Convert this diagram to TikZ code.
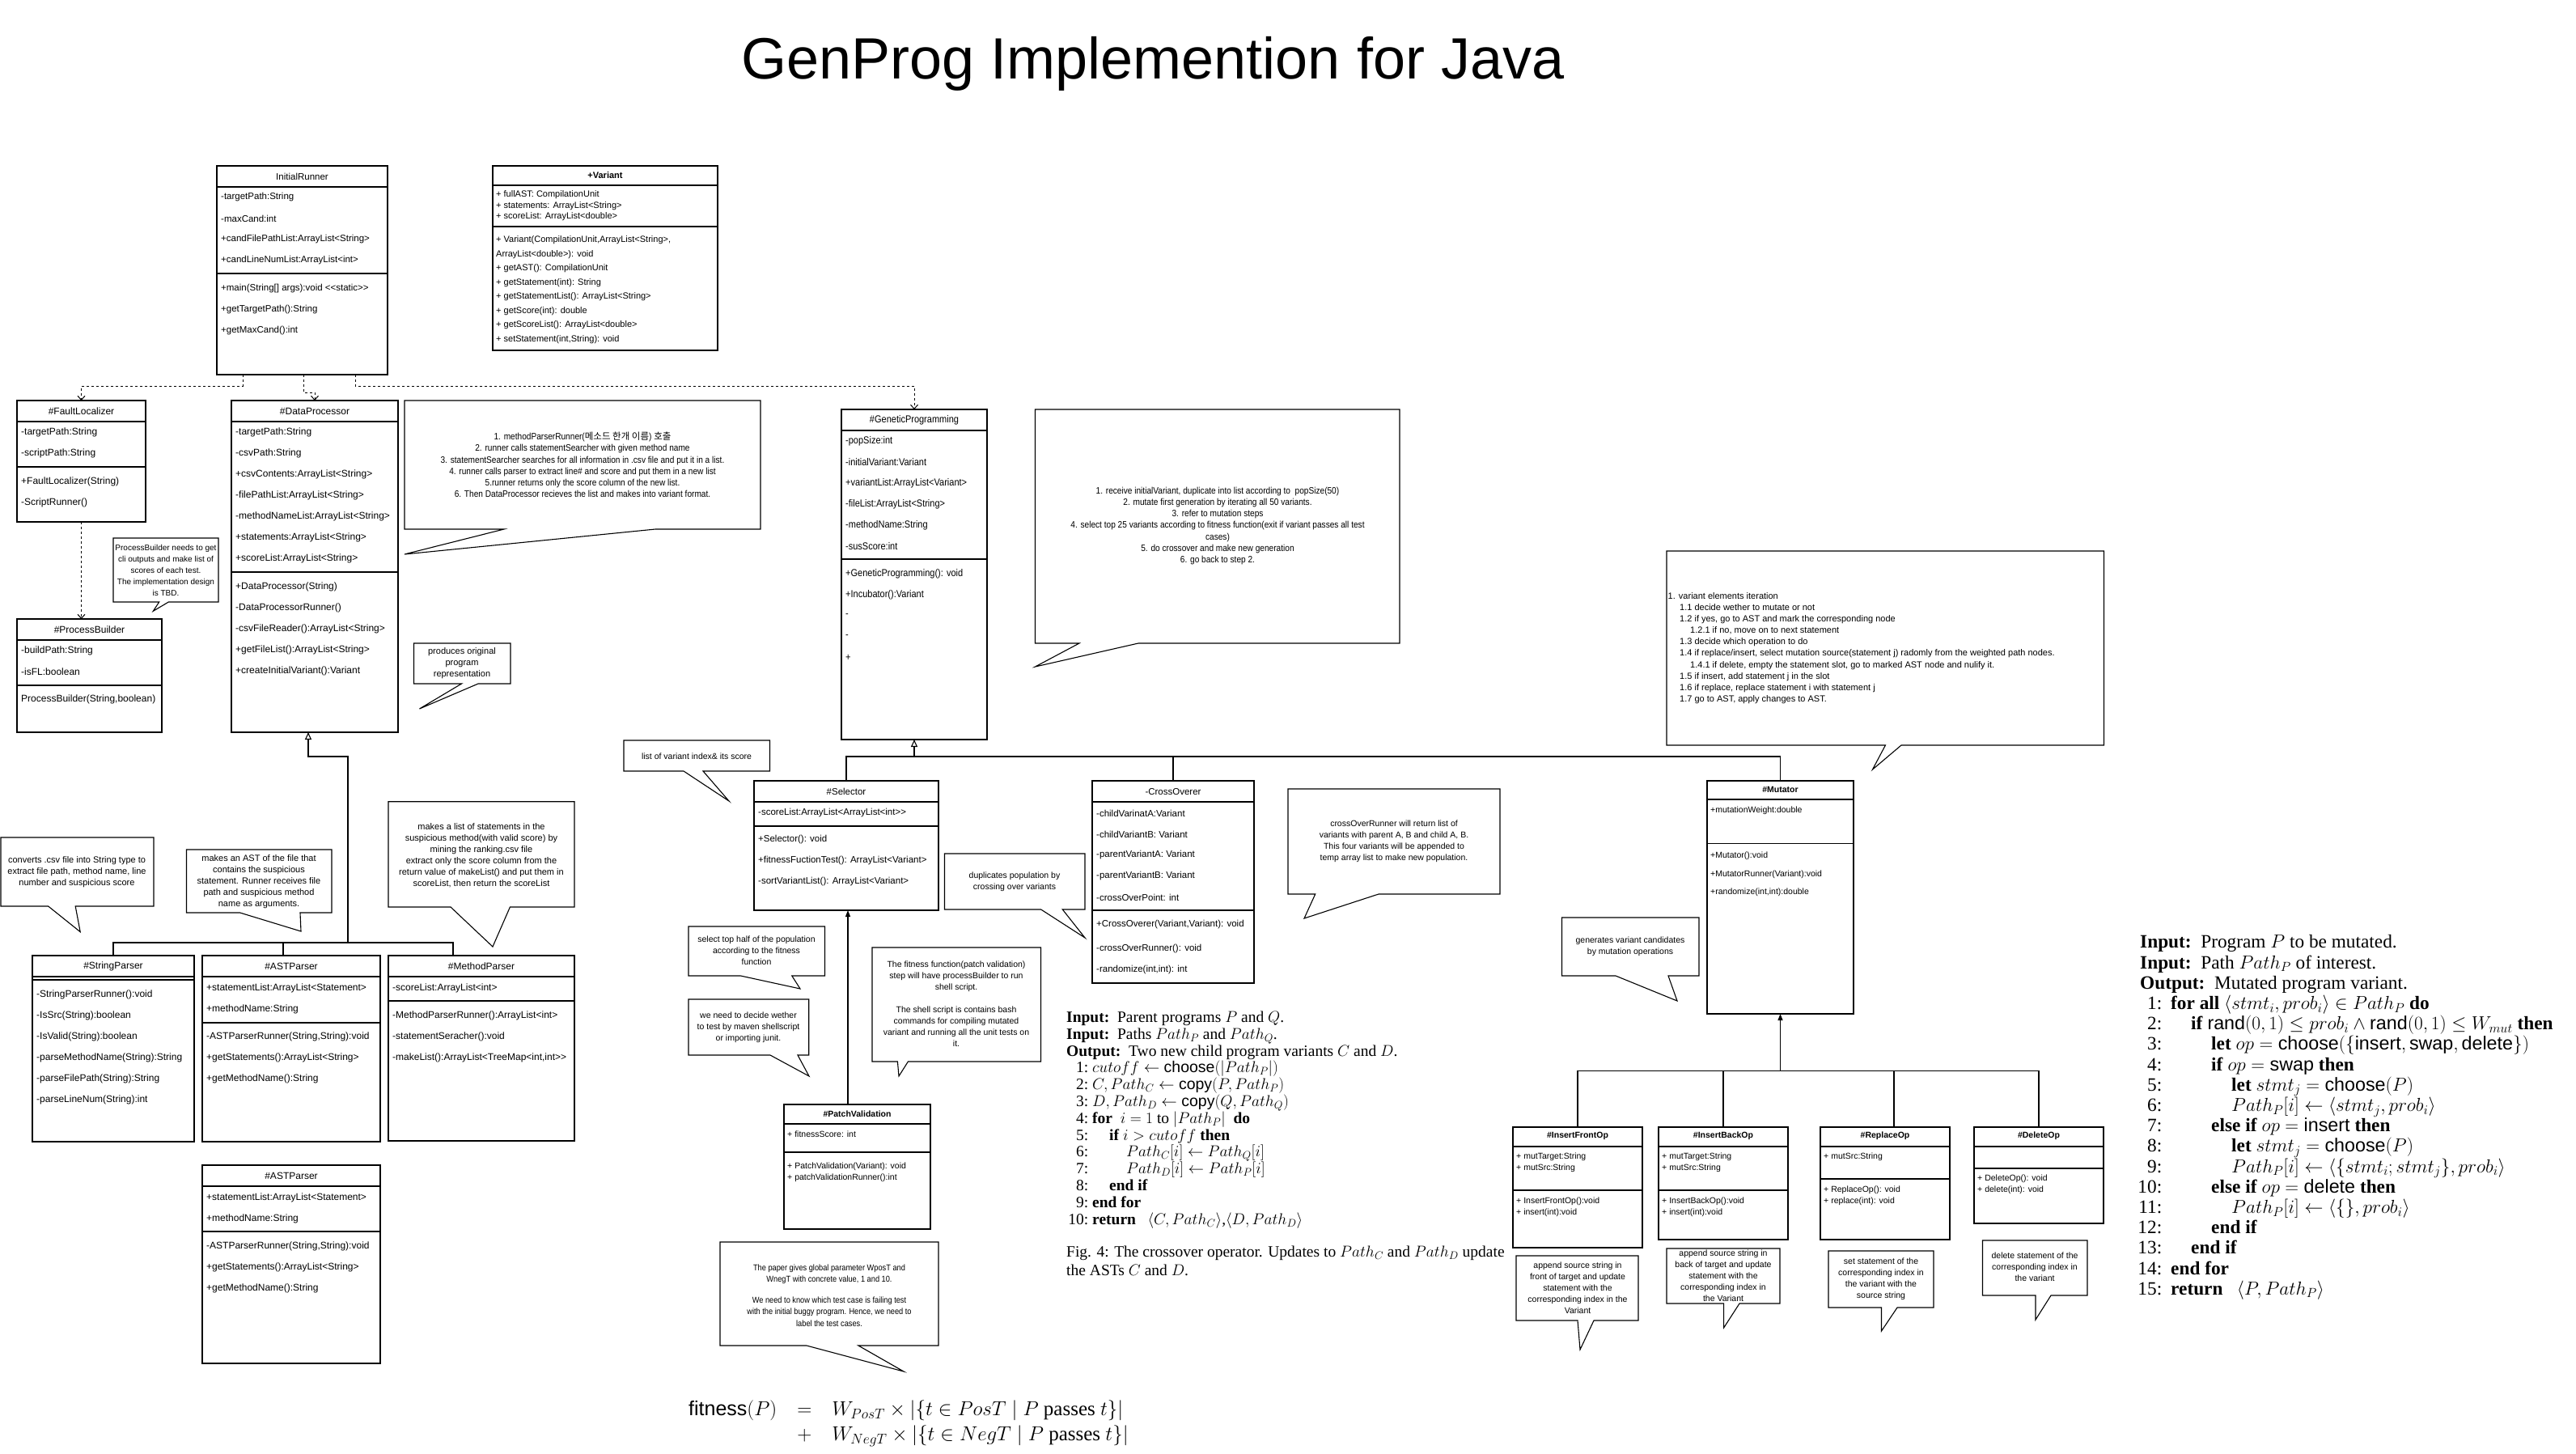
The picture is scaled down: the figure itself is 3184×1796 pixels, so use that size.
\documentclass[tikz,border=0pt]{standalone}
\usepackage{fix-cm}
\usepackage{fontspec}
\setmainfont{Liberation Serif}
\setsansfont{Liberation Sans}
\newfontfamily\arial{Liberation Sans}
\newfontfamily\narrow[FakeStretch=0.88]{Liberation Sans}
\newfontfamily\kr{Noto Sans CJK KR}
\usetikzlibrary{arrows.meta}
\newcommand\fsz[2]{\fontsize{#1}{#2}\selectfont}
\tikzset{
  cls/.style={draw, line width=1.1pt, anchor=north west, inner sep=0pt, outer sep=0pt},
  sepl/.style={line width=1.1pt},
  line/.style={line width=1.1pt},
  note/.style={line width=1.1pt, fill=white},
  r12/.style={anchor=west, inner sep=0pt, font=\arial\fsz{12}{14}},
  r115/.style={anchor=west, inner sep=0pt, font=\arial\fsz{11.5}{14}},
  r11/.style={anchor=west, inner sep=0pt, font=\arial\fsz{11}{13}},
  r105/.style={anchor=west, inner sep=0pt, font=\arial\fsz{10.5}{13}},
  n12/.style={anchor=west, inner sep=0pt, font=\narrow\fsz{12.5}{14}},
  t12/.style={inner sep=0pt, font=\arial\fsz{12}{14}},
  t115/.style={inner sep=0pt, font=\arial\fsz{11.5}{14}},
  n12t/.style={inner sep=0pt, font=\narrow\fsz{12.5}{14}},
  b11/.style={inner sep=0pt, font=\arial\bfseries\fsz{11}{13}},
  b105/.style={inner sep=0pt, font=\arial\bfseries\fsz{10.5}{13}},
  nt/.style={inner sep=0pt, align=center, font=\arial\fsz{11}{14}},
  nt105/.style={inner sep=0pt, align=center, font=\arial\fsz{10.5}{14}},
  nt10/.style={inner sep=0pt, align=center, font=\arial\fsz{10}{14}},
  nn/.style={inner sep=0pt, align=center, font=\narrow\fsz{11.5}{14.2}},
  nn105/.style={inner sep=0pt, align=center, font=\narrow\fsz{10.5}{14.5}},
  dep/.style={line width=1pt, dash pattern=on 3pt off 3pt, -{Straight Barb[length=5pt, width=9pt]}},
  gen/.style={line width=1.1pt, -{Triangle[open, length=9pt, width=8pt, fill=white]}},
  sol/.style={line width=1.1pt, -{Triangle[length=8pt, width=6pt]}},
}
\newcommand\cls[5]{\node[cls, minimum width=\dimexpr#4pt-#2pt\relax, minimum height=\dimexpr#5pt-#3pt\relax] (#1) at (#2,#3) {};}
\newcommand\hsep[2]{\draw[sepl] (#1.west |- 0,#2) -- (#1.east |- 0,#2);}
\newcommand\rows[6]{\foreach \rowtext [count=\ri] in {#6} {\node[#1] (#2\ri) at (#3,{#4+(\ri-1)*#5}) {\rowtext};}}
\newcommand\callout[8]{\draw[note] (#1,#2) -- (#3,#2) -- (#3,#4) -- (#6,#4) -- (#7,#8) -- (#5,#4) -- (#1,#4) -- cycle;}
\newcommand\lno[1]{\makebox[27pt][r]{#1}\hspace{5pt}}
\newcommand\lnm[1]{\makebox[27pt][r]{#1}\hspace{11pt}}
\newcommand\indx{\hspace*{21pt}}
\newcommand\indm{\hspace*{25pt}}
\begin{document}
\begin{tikzpicture}[x=1pt,y=-1pt]
\useasboundingbox (0,0) rectangle (3184,1796);
\fill[white] (0,0) rectangle (3184,1796);

\node[font=\arial\fsz{72}{78}, inner sep=0pt] (title) at (1425,79) {GenProg Implemention for Java};

% ---------- InitialRunner
\cls{IR}{268}{205}{479}{463}
\node[t115] (IRt) at (373.5,218) {InitialRunner};
\hsep{IR}{231}
\rows{r115}{IRa}{273}{244}{26}{{-targetPath:String},{-maxCand:int},{+candFilePathList:ArrayList<String>},{+candLineNumList:ArrayList<int>}}
\hsep{IR}{338}
\rows{r115}{IRm}{273}{357}{26}{{+main(String[] args):void <<static>>},{+getTargetPath():String},{+getMaxCand():int}}

% ---------- Variant
\cls{VAR}{609}{205}{887}{433}
\node[b11] (VARt) at (748,217) {+Variant};
\hsep{VAR}{229}
\rows{r11}{VARa}{613}{241}{13.5}{{+ fullAST: CompilationUnit},{+ statements: ArrayList<String>},{+ scoreList: ArrayList<double>}}
\hsep{VAR}{280}
\rows{r11}{VARm}{613}{297}{17.5}{{+ Variant(CompilationUnit,ArrayList<String>,},{ArrayList<double>): void},{+ getAST(): CompilationUnit},{+ getStatement(int): String},{+ getStatementList(): ArrayList<String>},{+ getScore(int): double},{+ getScoreList(): ArrayList<double>},{+ setStatement(int,String): void}}

% ---------- FaultLocalizer
\cls{FL}{21}{495}{180}{645}
\node[t12] (FLt) at (100.5,508) {\#FaultLocalizer};
\hsep{FL}{521}
\rows{r12}{FLa}{26}{534}{26}{{-targetPath:String},{-scriptPath:String}}
\hsep{FL}{577}
\rows{r12}{FLm}{26}{595}{26}{{+FaultLocalizer(String)},{-ScriptRunner()}}

% ---------- ProcessBuilder
\cls{PB}{21}{765}{200}{905}
\node[t12] (PBt) at (110.5,778) {\#ProcessBuilder};
\hsep{PB}{791}
\rows{r12}{PBa}{26}{804}{26}{{-buildPath:String},{-isFL:boolean}}
\hsep{PB}{847}
\rows{r12}{PBm}{26}{864}{26}{{ProcessBuilder(String,boolean)}}

% ---------- DataProcessor
\cls{DP}{286}{495}{492}{905}
\node[t12] (DPt) at (389,508) {\#DataProcessor};
\hsep{DP}{521}
\rows{r12}{DPa}{291}{534}{26}{{-targetPath:String},{-csvPath:String},{+csvContents:ArrayList<String>},{-filePathList:ArrayList<String>},{-methodNameList:ArrayList<String>},{+statements:ArrayList<String>},{+scoreList:ArrayList<String>}}
\hsep{DP}{707}
\rows{r12}{DPm}{291}{725}{26}{{+DataProcessor(String)},{-DataProcessorRunner()},{-csvFileReader():ArrayList<String>},{+getFileList():ArrayList<String>},{+createInitialVariant():Variant}}

% ---------- GeneticProgramming
\cls{GP}{1040}{506}{1220}{914}
\node[n12t] (GPt) at (1130,519) {\#GeneticProgramming};
\hsep{GP}{532}
\rows{n12}{GPa}{1045}{545}{26}{{-popSize:int},{-initialVariant:Variant},{+variantList:ArrayList<Variant>},{-fileList:ArrayList<String>},{-methodName:String},{-susScore:int}}
\hsep{GP}{691}
\rows{n12}{GPm}{1045}{709}{26}{{+GeneticProgramming(): void},{+Incubator():Variant},{-},{-},{+}}

% ---------- Selector
\cls{SEL}{932}{965}{1160}{1125}
\node[t115] (SELt) at (1046,978) {\#Selector};
\hsep{SEL}{991}
\rows{r115}{SELa}{937}{1005}{26}{{-scoreList:ArrayList<ArrayList<int>>}}
\hsep{SEL}{1021}
\rows{r115}{SELm}{937}{1038}{26}{{+Selector(): void},{+fitnessFuctionTest(): ArrayList<Variant>},{-sortVariantList(): ArrayList<Variant>}}

% ---------- CrossOverer
\cls{CO}{1350}{965}{1550}{1215}
\node[t115] (COt) at (1450,979) {-CrossOverer};
\hsep{CO}{991}
\rows{r115}{COa}{1355}{1005}{26}{{-childVarinatA:Variant},{-childVariantB: Variant},{-parentVariantA: Variant},{-parentVariantB: Variant},{-crossOverPoint: int}}
\hsep{CO}{1125}
\node[r115] (COm1) at (1355,1143) {+CrossOverer(Variant,Variant): void};
\node[r115] (COm2) at (1355,1173) {-crossOverRunner(): void};
\node[r115] (COm3) at (1355,1199) {-randomize(int,int): int};

% ---------- PatchValidation
\cls{PV}{969}{1365}{1150}{1519}
\node[b105] (PVt) at (1059.5,1377) {\#PatchValidation};
\hsep{PV}{1389}
\rows{r105}{PVa}{973}{1402}{14}{{+ fitnessScore: int}}
\hsep{PV}{1424}
\rows{r105}{PVm}{973}{1442}{14}{{+ PatchValidation(Variant): void},{+ patchValidationRunner():int}}

% ---------- Mutator
\cls{MUT}{2110}{965}{2291}{1253}
\node[b105] (MUTt) at (2200.5,976) {\#Mutator};
\hsep{MUT}{988}
\rows{r105}{MUTa}{2114}{1001.5}{14}{{+mutationWeight:double}}
\hsep{MUT}{1042.6}
\rows{r105}{MUTm}{2114}{1058}{22.5}{{+Mutator():void},{+MutatorRunner(Variant):void},{+randomize(int,int):double}}

% ---------- Operators
\cls{IFO}{1870}{1393}{2030}{1542}
\node[b105] (IFOt) at (1950,1404) {\#InsertFrontOp};
\hsep{IFO}{1417}
\rows{r105}{IFOa}{1874}{1430}{14}{{+ mutTarget:String},{+ mutSrc:String}}
\hsep{IFO}{1471}
\rows{r105}{IFOm}{1874}{1485}{14}{{+ InsertFrontOp():void},{+ insert(int):void}}

\cls{IBO}{2050}{1393}{2210}{1532}
\node[b105] (IBOt) at (2130,1404) {\#InsertBackOp};
\hsep{IBO}{1417}
\rows{r105}{IBOa}{2054}{1430}{14}{{+ mutTarget:String},{+ mutSrc:String}}
\hsep{IBO}{1471}
\rows{r105}{IBOm}{2054}{1485}{14}{{+ InsertBackOp():void},{+ insert(int):void}}

\cls{RO}{2250}{1393}{2410}{1532}
\node[b105] (ROt) at (2330,1404) {\#ReplaceOp};
\hsep{RO}{1417}
\rows{r105}{ROa}{2254}{1430}{14}{{+ mutSrc:String}}
\hsep{RO}{1457}
\rows{r105}{ROm}{2254}{1471}{14}{{+ ReplaceOp(): void},{+ replace(int): void}}

\cls{DO}{2440}{1393}{2600}{1512}
\node[b105] (DOt) at (2520,1404) {\#DeleteOp};
\hsep{DO}{1417}
\hsep{DO}{1444}
\rows{r105}{DOm}{2444}{1457}{14}{{+ DeleteOp(): void},{+ delete(int): void}}

% ---------- Parsers
\cls{SP}{40}{1181}{240}{1411}
\node[t12] (SPt) at (140,1194) {\#StringParser};
\hsep{SP}{1207}
\hsep{SP}{1211}
\rows{r12}{SPm}{45}{1229}{26}{{-StringParserRunner():void},{-IsSrc(String):boolean},{-IsValid(String):boolean},{-parseMethodName(String):String},{-parseFilePath(String):String},{-parseLineNum(String):int}}

\cls{AST}{250}{1181}{470}{1411}
\node[t12] (ASTt) at (360,1194) {\#ASTParser};
\hsep{AST}{1207}
\rows{r12}{ASTa}{255}{1221}{26}{{+statementList:ArrayList<Statement>},{+methodName:String}}
\hsep{AST}{1264}
\rows{r12}{ASTm}{255}{1281}{26}{{-ASTParserRunner(String,String):void},{+getStatements():ArrayList<String>},{+getMethodName():String}}

\cls{MP}{480}{1181}{710}{1410}
\node[t12] (MPt) at (595,1194) {\#MethodParser};
\hsep{MP}{1207}
\rows{r12}{MPa}{485}{1221}{26}{{-scoreList:ArrayList<int>}}
\hsep{MP}{1237}
\rows{r12}{MPm}{485}{1255}{26}{{-MethodParserRunner():ArrayList<int>},{-statementSeracher():void},{-makeList():ArrayList<TreeMap<int,int>>}}

\cls{ASTb}{250}{1440}{470}{1685}
\node[t12] (ASTbt) at (360,1453) {\#ASTParser};
\hsep{ASTb}{1466}
\rows{r12}{ASTba}{255}{1480}{26}{{+statementList:ArrayList<Statement>},{+methodName:String}}
\hsep{ASTb}{1522}
\rows{r12}{ASTbm}{255}{1540}{26}{{-ASTParserRunner(String,String):void},{+getStatements():ArrayList<String>},{+getMethodName():String}}

% ---------- connectors
\draw[dep] ([xshift=32pt]IR.south west) -- ++(0,14) -| (FL.north);
\draw[dep] ([xshift=107pt]IR.south west) -- ++(0,22) -| (DP.north);
\draw[dep] ([xshift=171pt]IR.south west) -- ++(0,14) -| (GP.north);
\draw[dep] (FL.south) -- (FL.south |- PB.north);

\coordinate (dpb) at ([xshift=95pt]DP.south west);
\coordinate (dpj) at (430,1165);
\coordinate (dpk) at (430,935);
\coordinate (astd) at ([xshift=100pt]AST.north west);
\coordinate (mpd) at ([xshift=80pt]MP.north west);
\draw[gen] (dpj) -- (dpk) -| (dpb);
\draw[line] (SP.north) -- (SP.north |- dpj) -- (mpd |- dpj) -- (mpd);
\draw[line] (astd) -- (astd |- dpj);

\coordinate (gj) at (GP.south |- 0,935);
\draw[gen] (gj) -- (GP.south);
\draw[line] (SEL.north) -- (SEL.north |- gj) -- (MUT.north |- gj) -- (MUT.north);
\draw[line] (CO.north) -- (CO.north |- gj);

\coordinate (pvt) at ([xshift=79pt]PV.north west);
\draw[sol] (pvt) -- (pvt |- SEL.south);

\coordinate (mj) at (MUT.south |- 0,1323.5);
\coordinate (rot) at ([xshift=91pt]RO.north west);
\draw[sol] (mj) -- (MUT.south);
\draw[line] (IFO.north) -- (IFO.north |- mj) -- (DO.north |- mj) -- (DO.north);
\draw[line] (IBO.north) -- (IBO.north |- mj);
\draw[line] (rot) -- (rot |- mj);

% ---------- callouts
\callout{140}{665}{270}{744}{196.7}{208.3}{189.3}{755.3}
\node[nt10] (nPB) at (205,705) {ProcessBuilder needs to get\\cli outputs and make list of\\scores of each test.\\The implementation design\\is TBD.};

\callout{500}{495}{940}{654}{623}{810}{500}{685}
\node[nn] (nDP) at (720,574.5) {1. methodParserRunner({\kr 메소드 한개 이름}) {\kr 호출}\\2. runner calls statementSearcher with given method name\\3. statementSearcher searches for all information in .csv file and put it in a list.\\4. runner calls parser to extract line\# and score and put them in a new list\\5.runner returns only the score column of the new list.\\6. Then DataProcessor recieves the list and makes into variant format.};

\callout{511.5}{795}{631}{845}{570.5}{591}{518.5}{876}
\node[nt] (nProd) at (571,820) {produces original\\program\\representation};

\callout{1279.5}{506}{1730}{795}{1334}{1407}{1279.5}{824}
\node[nn] (nGP) at (1505,650) {1. receive initialVariant, duplicate into list according to\ \ popSize(50)\\2. mutate first generation by iterating all 50 variants.\\3. refer to mutation steps\\4. select top 25 variants according to fitness function(exit if variant passes all test\\cases)\\5. do crossover and make new generation\\6. go back to step 2.};

\callout{2060}{681}{2600.5}{921}{2330.4}{2350}{2314.5}{951}
\node[inner sep=0pt, align=left, anchor=west, font=\arial\fsz{11}{14.1}] (nMut) at (2061.5,801) {1. variant elements iteration\\
\hspace*{14.5pt}1.1 decide wether to mutate or not\\
\hspace*{14.5pt}1.2 if yes, go to AST and mark the corresponding node\\
\hspace*{27.5pt}1.2.1 if no, move on to next statement\\
\hspace*{14.5pt}1.3 decide which operation to do\\
\hspace*{14.5pt}1.4 if replace/insert, select mutation source(statement j) radomly from the weighted path nodes.\\
\hspace*{27.5pt}1.4.1 if delete, empty the statement slot, go to marked AST node and nulify it.\\
\hspace*{14.5pt}1.5 if insert, add statement j in the slot\\
\hspace*{14.5pt}1.6 if replace, replace statement i with statement j\\
\hspace*{14.5pt}1.7 go to AST, apply changes to AST.};

\callout{771}{915}{951.5}{953}{845}{869}{901}{990}
\node[nt105] (nList) at (861,934.5) {list of variant index\& its score};

\callout{851}{1145}{1019.5}{1206}{915.5}{978.8}{989}{1222}
\node[nt105] (nTop) at (935,1175) {select top half of the population\\according to the fitness\\function};

\callout{851}{1235}{999.7}{1304}{952}{986}{1000}{1330}
\node[nt105] (nWe) at (925,1270) {we need to decide wether\\to test by maven shellscript\\or importing junit.};

\callout{1078}{1171}{1286.5}{1312}{1109.4}{1122.4}{1111}{1330}
\node[nt105] (nFit) at (1182,1241) {The fitness function(patch validation)\\step will have processBuilder to run\\shell script.\\[14pt]The shell script is contains bash\\commands for compiling mutated\\variant and running all the unit tests on\\it.};

\callout{1167.5}{1055}{1341}{1124}{1286.7}{1313.3}{1341}{1159}
\node[nt105] (nDup) at (1254,1090) {duplicates population by\\crossing over variants};

\callout{1592}{975}{1854}{1105}{1625.7}{1704}{1612}{1135}
\node[nt105] (nCross) at (1723,1040) {crossOverRunner will return list of\\variants with parent A, B and child A, B.\\This four variants will be appended to\\temp array list to make new population.};

\callout{1}{1035}{190}{1120}{59.7}{93.2}{99.2}{1151.7}
\node[nt] (nConv) at (95,1078) {converts .csv file into String type to\\extract file path, method name, line\\number and suspicious score};

\callout{230.5}{1050}{410}{1128}{296.6}{371}{372}{1151}
\node[nt] (nAST) at (320,1090) {makes an AST of the file that\\contains the suspicious\\statement. Runner receives file\\path and suspicious method\\name as arguments.};

\callout{480}{990.7}{710}{1121}{557}{630.4}{609}{1170}
\node[nt] (nMake) at (595,1057) {makes a list of statements in the\\suspicious method(with valid score) by\\mining the ranking.csv file\\extract only the score column from the\\return value of makeList() and put them in\\scoreList, then return the scoreList};

\callout{1930.5}{1134}{2100}{1206}{1997}{2062}{2073}{1237}
\node[nt105] (nGen) at (2015,1170) {generates variant candidates\\by mutation operations};

\callout{1874}{1552}{2025}{1632}{1950}{1970}{1953}{1668}
\node[nt105] (nIFO) at (1950,1591.5) {append source string in\\front of target and update\\statement with the\\corresponding index in the\\Variant};

\callout{2060}{1543}{2200}{1611}{2130.6}{2150}{2130.6}{1641}
\node[nt105] (nIBO) at (2130,1576.5) {append source string in\\back of target and update\\statement with the\\corresponding index in\\the Variant};

\callout{2260}{1546}{2390}{1616}{2325.5}{2345}{2325.5}{1645}
\node[nt105] (nRO) at (2325,1580.5) {set statement of the\\corresponding index in\\the variant with the\\source string};

\callout{2450.5}{1533}{2580}{1601}{2516}{2535}{2516}{1631}
\node[nt105] (nDO) at (2515,1566) {delete statement of the\\corresponding index in\\the variant};

\callout{890}{1535}{1160}{1663}{997}{1061}{1117}{1695}
\node[nn105] (nPaper) at (1025,1601) {The paper gives global parameter WposT and\\WnegT with concrete value, 1 and 10.\\[11pt]We need to know which test case is failing test\\with the initial buggy program. Hence, we need to\\label the test cases.};

% ---------- algorithms
\node[anchor=west, inner sep=0pt, align=left, font=\fsz{19.5}{20.8}] (algX) at (1318,1384) {%
\textbf{Input:}\ \ Parent programs $P$ and $Q$.\\
\textbf{Input:}\ \ Paths $Path_P$ and $Path_Q$.\\
\textbf{Output:}\ \ Two new child program variants $C$ and $D$.\\
\lno{1:}$cutoff\leftarrow\mathsf{choose}(|Path_P|)$\\
\lno{2:}$C, Path_C\leftarrow\mathsf{copy}(P, Path_P)$\\
\lno{3:}$D, Path_D\leftarrow\mathsf{copy}(Q, Path_Q)$\\
\lno{4:}\textbf{for}\ \ $i=1$ to $|Path_P|$\ \ \textbf{do}\\
\lno{5:}\indx\textbf{if} $i>cutoff$ \textbf{then}\\
\lno{6:}\indx\indx$Path_C[i]\leftarrow Path_Q[i]$\\
\lno{7:}\indx\indx$Path_D[i]\leftarrow Path_P[i]$\\
\lno{8:}\indx\textbf{end if}\\
\lno{9:}\textbf{end for}\\
\lno{10:}\textbf{return}\ \ \ $\langle C, Path_C\rangle$,$\langle D, Path_D\rangle$};

\node[anchor=west, inner sep=0pt, align=left, font=\fsz{19.5}{23}] (capX) at (1318,1558.5) {Fig. 4: The crossover operator. Updates to $Path_C$ and $Path_D$ update\\the ASTs $C$ and $D$.};

\node[anchor=west, inner sep=0pt, align=left, font=\fsz{23.3}{25.2}] (algM) at (2645,1381) {%
\textbf{Input:}\ \ Program $P$ to be mutated.\\
\textbf{Input:}\ \ Path $Path_P$ of interest.\\
\textbf{Output:}\ \ Mutated program variant.\\
\lnm{1:}\textbf{for all} $\langle stmt_i, prob_i\rangle\in Path_P$ \textbf{do}\\
\lnm{2:}\indm\textbf{if} $\mathsf{rand}(0,1)\le prob_i\wedge\mathsf{rand}(0,1)\le W_{mut}$ \textbf{then}\\
\lnm{3:}\indm\indm\textbf{let} $op=\mathsf{choose}(\{\mathsf{insert},\mathsf{swap},\mathsf{delete}\})$\\
\lnm{4:}\indm\indm\textbf{if} $op=\mathsf{swap}$ \textbf{then}\\
\lnm{5:}\indm\indm\indm\textbf{let} $stmt_j=\mathsf{choose}(P)$\\
\lnm{6:}\indm\indm\indm$Path_P[i]\leftarrow\langle stmt_j,prob_i\rangle$\\
\lnm{7:}\indm\indm\textbf{else if} $op=\mathsf{insert}$ \textbf{then}\\
\lnm{8:}\indm\indm\indm\textbf{let} $stmt_j=\mathsf{choose}(P)$\\
\lnm{9:}\indm\indm\indm$Path_P[i]\leftarrow\langle\{stmt_i;stmt_j\},prob_i\rangle$\\
\lnm{10:}\indm\indm\textbf{else if} $op=\mathsf{delete}$ \textbf{then}\\
\lnm{11:}\indm\indm\indm$Path_P[i]\leftarrow\langle\{\},prob_i\rangle$\\
\lnm{12:}\indm\indm\textbf{end if}\\
\lnm{13:}\indm\textbf{end if}\\
\lnm{14:}\textbf{end for}\\
\lnm{15:}\textbf{return}\ \ \ $\langle P, Path_P\rangle$};

\node[anchor=west, inner sep=0pt, font=\fsz{25}{31}] (fit) at (851,1759) {$\begin{array}{@{}r@{\quad}c@{\quad}l@{}}\mathsf{fitness}(P) & = & W_{PosT}\times\big|\{t\in PosT\mid P\mbox{ passes }t\}\big|\\ & + & W_{NegT}\times\big|\{t\in NegT\mid P\mbox{ passes }t\}\big|\end{array}$};
\end{tikzpicture}
\end{document}
